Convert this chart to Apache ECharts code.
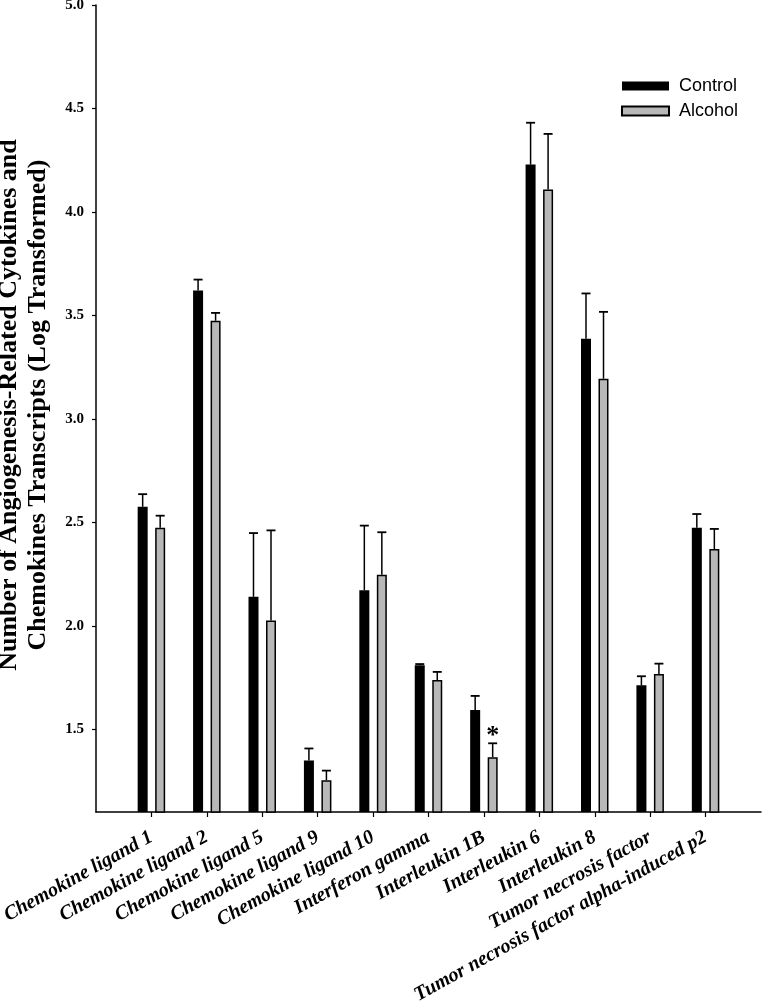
<!DOCTYPE html>
<html>
<head>
<meta charset="utf-8">
<script src="https://cdn.jsdelivr.net/npm/echarts@6/dist/echarts.min.js"></script>
<style>html,body{margin:0;padding:0;background:#fff}#c{width:763px;height:1003px}</style>
</head>
<body>
<div id="c"></div>
<script>
const categories = ['Chemokine ligand 1', 'Chemokine ligand 2', 'Chemokine ligand 5', 'Chemokine ligand 9', 'Chemokine ligand 10', 'Interferon gamma', 'Interleukin 1B', 'Interleukin 6', 'Interleukin 8', 'Tumor necrosis factor', 'Tumor necrosis factor alpha-induced p2'];
const controlMean = [2.575, 3.62, 2.14, 1.349, 2.172, 1.809, 1.593, 4.229, 3.387, 1.712, 2.474];
const controlSE   = [0.061, 0.053, 0.308, 0.058, 0.312, 0.006, 0.068, 0.202, 0.219, 0.044, 0.066];
const alcoholMean = [2.474, 3.474, 2.026, 1.253, 2.246, 1.738, 1.365, 4.108, 3.194, 1.767, 2.371];
const alcoholSE   = [0.058, 0.038, 0.435, 0.047, 0.206, 0.039, 0.067, 0.269, 0.323, 0.050, 0.097];
const significance = ['', '', '', '', '', '', '*', '', '', '', ''];
const yTicks = [1.5, 2.0, 2.5, 3.0, 3.5, 4.0, 4.5, 5.0];
const yMin = 1.1, yMax = 5.0;

// padded category list so groups sit on ticks between the axis ends
const xData = [''].concat(categories, ['']);
const pad = a => ['-'].concat(a, ['-']);

function errData(mean, se) {
  return mean.map((m, i) => [i + 1, m, m + se[i], significance[i]]);
}

function makeErr(sign, withStar) {
  return function (params, api) {
    const x = api.value(0);
    const base = api.coord([x, api.value(1)]);
    const top = api.coord([x, api.value(2)]);
    const bw = api.size([1, 0])[0];
    const cx = base[0] + sign * bw * 0.158;
    const half = 4.5;
    const children = [
      { type: 'line', shape: { x1: cx, y1: base[1], x2: cx, y2: top[1] }, style: { stroke: '#000', lineWidth: 1.5 } },
      { type: 'line', shape: { x1: cx - half, y1: top[1], x2: cx + half, y2: top[1] }, style: { stroke: '#000', lineWidth: 1.8 } }
    ];
    const star = api.value(3);
    if (withStar && star) {
      children.push({ type: 'text', x: cx, y: top[1] + 6, style: { text: star, font: 'bold 26px "Liberation Serif"', fill: '#000', textAlign: 'center', textVerticalAlign: 'bottom' } });
    }
    return { type: 'group', children };
  };
}

const chart = echarts.init(document.getElementById('c'), null, { renderer: 'canvas' });
chart.setOption({
  animation: false,
  backgroundColor: '#fff',
  grid: { left: 96, right: 2, top: 5, bottom: 191, containLabel: false, outerBoundsMode: 'none' },
  legend: {
    orient: 'vertical', left: 616, top: 72, itemWidth: 47, itemHeight: 9, itemGap: 7, icon: 'rect',
    data: ['Control', 'Alcohol'],
    textStyle: { fontFamily: 'Liberation Sans', fontSize: 18, color: '#000', padding: [0, 0, 0, 5] }
  },
  xAxis: {
    type: 'category', data: xData, boundaryGap: false,
    axisLine: { lineStyle: { color: '#000', width: 1.5 } },
    axisTick: { length: 5, inside: false, lineStyle: { color: '#000', width: 1.2 }, interval: (i, v) => v !== '' },
    axisLabel: { interval: 0, rotate: 29, margin: 24, color: '#000', fontFamily: 'Liberation Serif', fontWeight: 'bold', fontStyle: 'italic', fontSize: 20 },
    splitLine: { show: false }
  },
  yAxis: {
    type: 'value', min: yMin, max: yMax,
    axisLine: { show: true, lineStyle: { color: '#000', width: 1.5 } },
    axisTick: { show: true, length: 4, lineStyle: { color: '#000', width: 1.2 }, customValues: yTicks },
    axisLabel: { customValues: yTicks, formatter: v => v.toFixed(1), margin: 12, color: '#000', fontFamily: 'Liberation Serif', fontWeight: 'bold', fontSize: 15 },
    splitLine: { show: false }
  },
  graphic: [{
    type: 'text', x: 24, y: 405, rotation: Math.PI / 2,
    style: {
      text: 'Number of Angiogenesis-Related Cytokines and\nChemokines Transcripts (Log Transformed)',
      font: 'bold 26px "Liberation Serif"', fill: '#000', textAlign: 'center', textVerticalAlign: 'middle', lineHeight: 29
    }
  }],
  series: [
    { name: 'Control', type: 'bar', data: pad(controlMean), barWidth: 10, barGap: '75%', itemStyle: { color: '#000' }, clip: true },
    { name: 'Alcohol', type: 'bar', data: pad(alcoholMean), barWidth: 10, barGap: '75%', itemStyle: { color: '#b8b8b8', borderColor: '#000', borderWidth: 1.5 }, clip: true },
    { name: 'ctrlErr', type: 'custom', data: errData(controlMean, controlSE), renderItem: makeErr(-1, false), z: 3 },
    { name: 'alcErr', type: 'custom', data: errData(alcoholMean, alcoholSE), renderItem: makeErr(1, true), z: 3 }
  ]
});
</script>
</body>
</html>
